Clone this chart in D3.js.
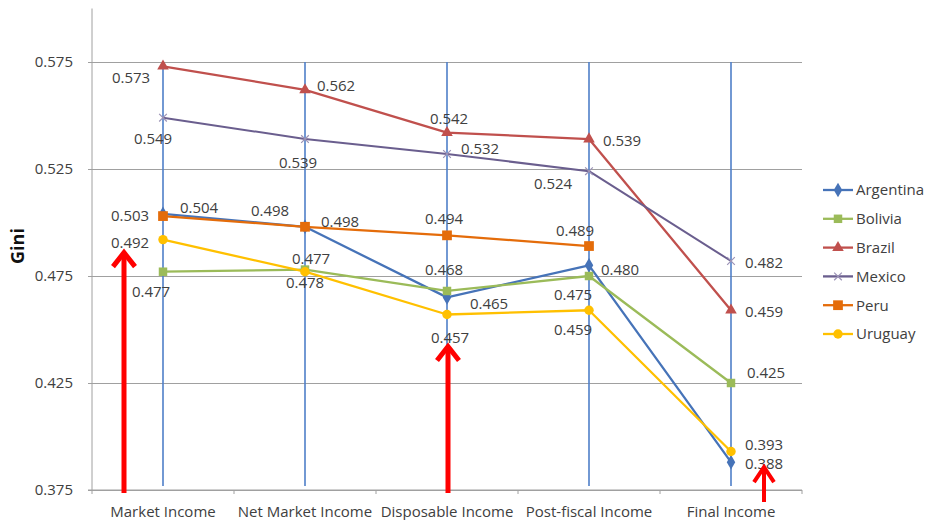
<!DOCTYPE html>
<html>
<head>
<meta charset="utf-8">
<script src="https://cdn.jsdelivr.net/npm/d3@7"></script>
<style>
  html, body { margin: 0; padding: 0; background: #fff; }
  svg { display: block; font-family: "Open Sans", "Liberation Sans", sans-serif; }
</style>
</head>
<body>
<svg id="chart" width="928" height="520"></svg>
<script>
// Income concepts along the x axis
const categories = ["Market Income", "Net Market Income", "Disposable Income", "Post-fiscal Income", "Final Income"];

// Gini coefficient per country and income concept (null = not available)
const argentina = [0.504, 0.498, 0.465, 0.480, 0.388];
const bolivia   = [0.477, 0.478, 0.468, 0.475, 0.425];
const brazil    = [0.573, 0.562, 0.542, 0.539, 0.459];
const mexico    = [0.549, 0.539, 0.532, 0.524, 0.482];
const peru      = [0.503, 0.498, 0.494, 0.489, null];
const uruguay   = [0.492, 0.477, 0.457, 0.459, 0.393];

const countries = ["Argentina", "Bolivia", "Brazil", "Mexico", "Peru", "Uruguay"];
const yTicks = [0.375, 0.425, 0.475, 0.525, 0.575];

const seriesValues = { Argentina: argentina, Bolivia: bolivia, Brazil: brazil, Mexico: mexico, Peru: peru, Uruguay: uruguay };

// Styling per series
const styles = {
  Argentina: { color: "#4673b8", marker: "diamond", size: 62 },
  Bolivia:   { color: "#9bbb59", marker: "square",  size: 72 },
  Brazil:    { color: "#c0504d", marker: "triangle", size: 58 },
  Mexico:    { color: "#6a5e8e", marker: "cross",   size: 40 },
  Peru:      { color: "#e46c0a", marker: "square",  size: 95 },
  Uruguay:   { color: "#ffc000", marker: "circle",  size: 70 }
};

// Data-label offsets (text centre relative to the point), one pair per category
const labelOffsets = {
  Argentina: [[36, -6], [-35, -16], [42, 6], [31, 4], [33, 1]],
  Bolivia:   [[-12, 20], [0, 13], [-3, -21], [-16, 19], [35, -10]],
  Brazil:    [[-32, 11], [31, -4], [2, -14], [33, 2], [33, 1]],
  Mexico:    [[-10, 21], [-7, 24], [33, -5], [-36, 12], [33, 2]],
  Peru:      [[-33, 0], [35, -5], [-3, -17], [-14, -15], null],
  Uruguay:   [[-33, 3], [6, -13], [3, 23], [-16, 19], [33, -7]]
};

// Red call-out arrows, anchored to a point of a series
const arrows = [
  { series: "Uruguay", cat: 0, dx: -39, dy: 12, head: 11, headLen: 15, width: 5 },
  { series: "Uruguay", cat: 2, dx: 1, dy: 31, head: 11, headLen: 15, width: 5 },
  { series: "Argentina", cat: 4, dx: 33, dy: 4, head: 10, headLen: 16, width: 4, bottom: 502 }
];

(function draw() {
  const svg = d3.select("#chart");
  const plotLeft = 92, plotRight = 802, plotTop = 8.5, plotBottom = 490;
  const textColor = "#404040";

  const x = d3.scaleBand().domain(categories).range([plotLeft, plotRight]).padding(0);
  const y = d3.scaleLinear().domain([0.375, 0.600]).range([plotBottom, plotTop]);
  const cx = c => x(c) + x.bandwidth() / 2;

  // Horizontal gridlines and y tick labels
  const yAxis = d3.axisLeft(y).tickValues(yTicks).tickSize(4).tickFormat(d3.format(".3f"));
  const gy = svg.append("g").attr("transform", `translate(${plotLeft},0)`).call(yAxis);
  gy.select(".domain").attr("stroke", "#a0a0a0").attr("d", `M0,${plotTop}V${plotBottom}`);
  gy.selectAll(".tick line").attr("stroke", "#a0a0a0").attr("x1", -4).attr("x2", plotRight - plotLeft);
  gy.selectAll(".tick text").attr("x", -19).attr("fill", textColor).style("font-size", "15px")
    .style("font-family", "'Open Sans', sans-serif");

  // X axis with category labels
  const xAxis = d3.axisBottom(x).tickSize(0);
  const gx = svg.append("g").attr("transform", `translate(0,${plotBottom})`).call(xAxis);
  gx.select(".domain").attr("stroke", "#a0a0a0").attr("d", `M${plotLeft - 4},0H${plotRight}`);
  gx.selectAll(".tick text").attr("y", 0).attr("dy", "27px").attr("fill", textColor)
    .style("font-size", "15px").style("font-family", "'Open Sans', sans-serif");
  // boundary tick marks between categories
  gx.selectAll(".bound").data(d3.range(categories.length + 1)).join("line")
    .attr("class", "bound")
    .attr("x1", i => plotLeft + i * x.bandwidth()).attr("x2", i => plotLeft + i * x.bandwidth())
    .attr("y1", 0).attr("y2", 4).attr("stroke", "#a0a0a0");

  // Vertical blue drop lines at each income concept
  svg.append("g").selectAll("line").data(categories).join("line")
    .attr("x1", d => cx(d)).attr("x2", d => cx(d))
    .attr("y1", y(0.575)).attr("y2", plotBottom - 4)
    .attr("stroke", "#4f7fc8").attr("stroke-width", 1.6);

  // Axis title
  svg.append("text").attr("transform", "translate(24,246) rotate(-90)")
    .attr("text-anchor", "middle").attr("fill", "#111")
    .style("font-size", "18px").style("font-weight", "bold").text("Gini");

  const symbolType = {
    diamond: d3.symbolDiamond, square: d3.symbolSquare, triangle: d3.symbolTriangle,
    cross: d3.symbolX, circle: d3.symbolCircle
  };
  function drawMarker(g, name, px, py) {
    const s = styles[name];
    const sym = d3.symbol().type(symbolType[s.marker]).size(s.size);
    const p = g.append("path").attr("d", sym()).attr("transform", `translate(${px},${py})`);
    if (s.marker === "cross") p.attr("fill", "none").attr("stroke", "#9c93b6").attr("stroke-width", 1.2);
    else p.attr("fill", s.color);
  }

  // Series lines and markers
  const line = d3.line().defined(d => d.v != null).x(d => cx(d.c)).y(d => y(d.v));
  const seriesG = svg.append("g");
  countries.forEach(name => {
    const pts = categories.map((c, i) => ({ c, v: seriesValues[name][i] }));
    seriesG.append("path").datum(pts).attr("d", line)
      .attr("fill", "none").attr("stroke", styles[name].color)
      .attr("stroke-width", name === "Mexico" ? 2 : 2.3).attr("stroke-linejoin", "round");
  });
  countries.forEach(name => {
    categories.forEach((c, i) => {
      const v = seriesValues[name][i];
      if (v != null) drawMarker(seriesG, name, cx(c), y(v));
    });
  });

  // Data labels
  const labelG = svg.append("g");
  countries.forEach(name => {
    categories.forEach((c, i) => {
      const v = seriesValues[name][i];
      const off = labelOffsets[name][i];
      if (v == null || !off) return;
      labelG.append("text")
        .attr("x", cx(c) + off[0]).attr("y", y(v) + off[1])
        .attr("text-anchor", "middle").attr("dy", "0.36em")
        .attr("fill", textColor).style("font-size", "15px")
        .text(d3.format(".3f")(v));
    });
  });

  // Legend
  const legend = svg.append("g");
  countries.forEach((name, i) => {
    const ly = 190 + i * 28.8;
    legend.append("line").attr("x1", 823).attr("x2", 853).attr("y1", ly).attr("y2", ly)
      .attr("stroke", styles[name].color).attr("stroke-width", 2.3);
    drawMarker(legend, name, 838, ly);
    legend.append("text").attr("x", 856).attr("y", ly).attr("dy", "0.36em")
      .attr("fill", textColor).style("font-size", "15px").text(name);
  });

  // Call-out arrows
  const arrowG = svg.append("g").attr("stroke", "#ff0000").attr("fill", "none")
    .attr("stroke-linecap", "butt").attr("stroke-linejoin", "miter");
  arrows.forEach(a => {
    const ax = cx(categories[a.cat]) + a.dx;
    const tip = y(seriesValues[a.series][a.cat]) + a.dy;
    const base = a.bottom != null ? a.bottom : plotBottom + 3;
    arrowG.append("line").attr("x1", ax).attr("x2", ax).attr("y1", tip + 2).attr("y2", base)
      .attr("stroke-width", a.width);
    arrowG.append("path")
      .attr("d", `M${ax - a.head},${tip + a.headLen}L${ax},${tip + 1}L${ax + a.head},${tip + a.headLen}`)
      .attr("stroke-width", a.width);
  });
})();
</script>
</body>
</html>
